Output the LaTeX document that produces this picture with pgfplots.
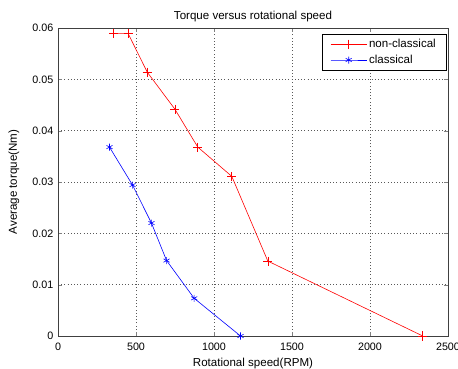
\documentclass[border=0pt]{standalone}
\usepackage{fontspec}
\setmainfont{Liberation Sans}
\usepackage{pgfplots}
\pgfplotsset{compat=1.18}
\begin{document}
\begin{tikzpicture}
\path[use as bounding box, fill=white] (0,0) rectangle (458bp,369bp);
\begin{axis}[
  at={(58bp,33bp)}, anchor=south west,
  scale only axis, width=390bp, height=308bp,
  xmin=0, xmax=2500, ymin=0, ymax=0.06,
  xtick={0,500,...,2500},
  ytick={0,0.01,0.02,0.03,0.04,0.05,0.06},
  scaled y ticks=false, scaled x ticks=false,
  yticklabel style={/pgf/number format/fixed, /pgf/number format/precision=2,
    anchor=east, inner sep=0pt, xshift=-4.5bp},
  xticklabel style={/pgf/number format/fixed, /pgf/number format/1000 sep={},
    anchor=base, inner sep=0pt, yshift=-14bp},
  /pgf/number format/assume math mode=true,
  tick label style={font=\fontsize{10.8}{12}\selectfont},
  every axis x label/.style={at={(axis description cs:0.5,-0.1006)}, anchor=base,
    font=\fontsize{11.6}{13}\selectfont},
  every axis y label/.style={at={(axis description cs:-0.113,0.5)}, rotate=90, anchor=center,
    font=\fontsize{11.6}{13}\selectfont},
  every axis title/.style={at={(axis description cs:0.5,1.0292)}, anchor=base,
    font=\fontsize{11.6}{13}\selectfont},
  title={Torque versus rotational speed},
  xlabel={Rotational speed(RPM)},
  ylabel={Average torque(Nm)},
  tick align=inside, major tick length=4bp,
  grid=major, major grid style={black!65, line width=0.5pt, dash pattern=on 0.8bp off 2.4bp},
  axis line style={black!75},
  legend cell align=left,
  legend style={at={(1,1)}, anchor=north east, xshift=-2bp, yshift=-6bp,
    font=\fontsize{11.6}{13}\selectfont, inner xsep=8bp, inner ysep=3bp,
    row sep=2bp, nodes={inner sep=2bp}},
  legend image code/.code={\draw[mark repeat=2,mark phase=2] plot coordinates {(0bp,0bp) (18bp,0bp) (36bp,0bp)};},
]
\addplot[color=red, line width=0.6bp, mark=+, mark size=4.5bp] coordinates {
  (357,0.0589) (450,0.0589) (572,0.0514) (749,0.0442) (896,0.0368)
  (1114,0.0311) (1345,0.0146) (2338,0)
};
\addlegendentry{non-classical}
\addplot[color=blue, line width=0.6bp, mark=asterisk, mark size=3.5bp] coordinates {
  (330,0.0368) (478,0.0294) (599,0.0220) (696,0.0147) (873,0.00734) (1170,0)
};
\addlegendentry{classical}
\end{axis}
\end{tikzpicture}
\end{document}
